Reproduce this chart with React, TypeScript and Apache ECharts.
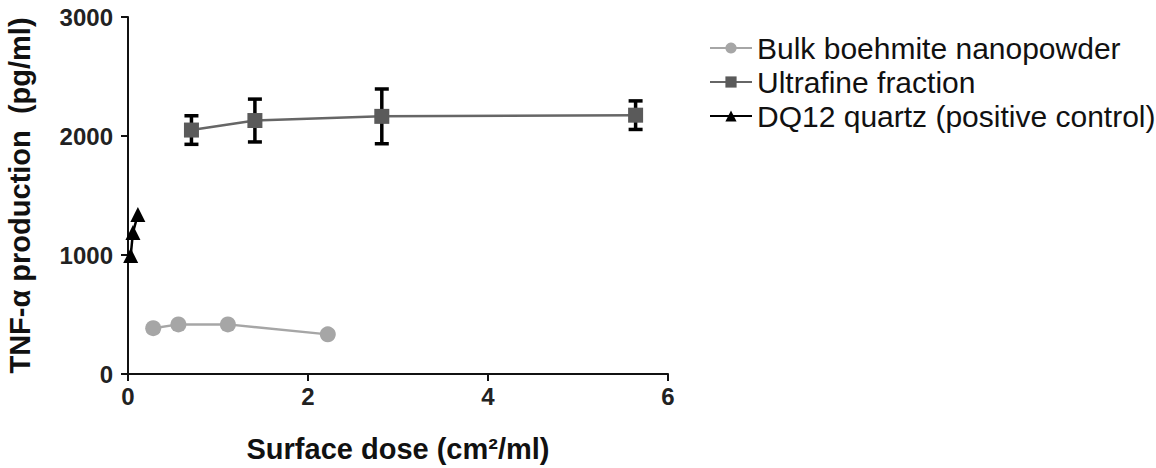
import React, { useEffect, useRef } from "react";
import * as echarts from "echarts";

const bulkX = [0.28, 0.56, 1.11, 2.22];
const bulkY = [385, 417, 417, 333];
const ufX = [0.705, 1.41, 2.82, 5.64];
const ufY = [2050, 2130, 2165, 2175];
const ufErr = [120, 180, 230, 120];
const dqX = [0.03, 0.055, 0.11];
const dqY = [995, 1190, 1340];
const xTicks = [0, 2, 4, 6];
const yTicks = [0, 1000, 2000, 3000];
const seriesNames = ["Bulk boehmite nanopowder", "Ultrafine fraction", "DQ12 quartz (positive control)"];

const FONT = "Liberation Sans, Arial, sans-serif";

export default function App() {
  const ref = useRef<HTMLDivElement>(null);
  useEffect(() => {
    if (!ref.current) return;
    const chart = echarts.init(ref.current, undefined, { renderer: "svg" });
    const errData = ufX.map((x, i) => [x, ufY[i] - ufErr[i], ufY[i] + ufErr[i]]);
    chart.setOption({
      animation: false,
      backgroundColor: "#ffffff",
      textStyle: { fontFamily: FONT },
      grid: { left: 128, top: 17, width: 540, height: 360, containLabel: false },
      legend: {
        orient: "vertical",
        left: 704,
        top: 28,
        itemWidth: 42,
        itemHeight: 14,
        itemGap: 4,
        data: seriesNames,
        textStyle: { fontFamily: FONT, fontSize: 30, color: "#111" },
      },
      xAxis: {
        type: "value",
        min: xTicks[0],
        max: xTicks[xTicks.length - 1],
        interval: 2,
        name: "Surface dose (cm²/ml)",
        nameLocation: "middle",
        nameGap: 60,
        nameTextStyle: { fontFamily: FONT, fontSize: 29, fontWeight: "bold", color: "#111" },
        axisLine: { onZero: false, lineStyle: { color: "#111", width: 2 } },
        axisTick: { show: true, length: 7, lineStyle: { color: "#111", width: 2 } },
        axisLabel: {
          fontFamily: FONT, fontSize: 24, fontWeight: "bold", color: "#222", margin: 10,
          formatter: (v: number) => String(v),
        },
        splitLine: { show: false },
      },
      yAxis: {
        type: "value",
        min: yTicks[0],
        max: yTicks[yTicks.length - 1],
        interval: 1000,
        name: "TNF-α production  (pg/ml)",
        nameLocation: "middle",
        nameGap: 94,
        nameRotate: 90,
        nameTextStyle: { fontFamily: FONT, fontSize: 29, fontWeight: "bold", color: "#111" },
        axisLine: { onZero: false, lineStyle: { color: "#111", width: 2 } },
        axisTick: { show: true, length: 7, lineStyle: { color: "#111", width: 2 } },
        axisLabel: {
          fontFamily: FONT, fontSize: 24, fontWeight: "bold", color: "#222", margin: 15,
          formatter: (v: number) => String(v),
        },
        splitLine: { show: false },
      },
      series: [
        {
          name: seriesNames[0],
          type: "line",
          data: bulkX.map((x, i) => [x, bulkY[i]]),
          symbol: "circle",
          symbolSize: 16,
          itemStyle: { color: "#a6a6a6" },
          lineStyle: { color: "#a6a6a6", width: 2.5 },
          z: 3,
        },
        {
          name: "ufErr",
          type: "custom",
          data: errData,
          renderItem: (params: any, api: any) => {
            const x = api.value(0);
            const lo = api.coord([x, api.value(1)]);
            const hi = api.coord([x, api.value(2)]);
            const hw = 7;
            const st = { stroke: "#000", lineWidth: 3.5 };
            return {
              type: "group",
              children: [
                { type: "line", shape: { x1: lo[0], y1: lo[1], x2: hi[0], y2: hi[1] }, style: st },
                { type: "line", shape: { x1: lo[0] - hw, y1: lo[1], x2: lo[0] + hw, y2: lo[1] }, style: st },
                { type: "line", shape: { x1: hi[0] - hw, y1: hi[1], x2: hi[0] + hw, y2: hi[1] }, style: st },
              ],
            };
          },
          z: 2,
        },
        {
          name: seriesNames[1],
          type: "line",
          data: ufX.map((x, i) => [x, ufY[i]]),
          symbol: "rect",
          symbolSize: 15,
          itemStyle: { color: "#5a5a5a" },
          lineStyle: { color: "#666666", width: 2.5 },
          z: 3,
        },
        {
          name: seriesNames[2],
          type: "line",
          data: dqX.map((x, i) => [x, dqY[i]]),
          symbol: "triangle",
          symbolSize: 15,
          itemStyle: { color: "#000" },
          lineStyle: { color: "#000", width: 2.5 },
          z: 4,
        },
      ],
    });
    return () => chart.dispose();
  }, []);
  return (
    <div
      ref={ref}
      style={{ position: "absolute", left: 0, top: 0, width: 1156, height: 468, background: "#fff" }}
    />
  );
}
